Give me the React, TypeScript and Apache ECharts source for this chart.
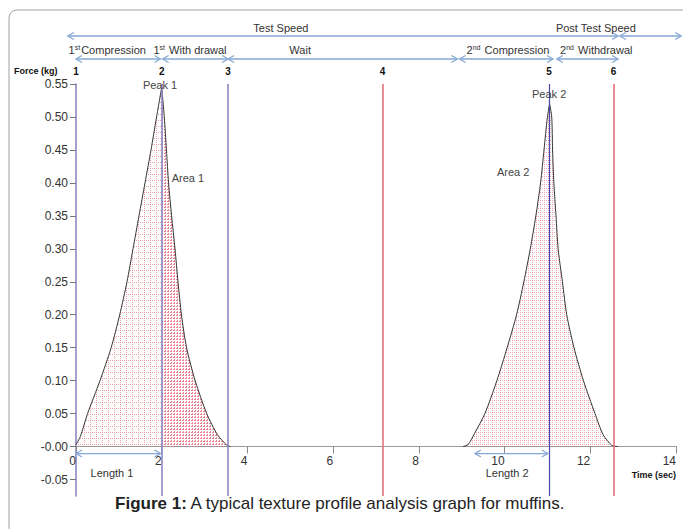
import React, { useEffect, useRef } from "react";
import * as echarts from "echarts";

// ---- data ----
const xTicks = [0, 2, 4, 6, 8, 10, 12, 14];
const yTicks = [-0.05, 0, 0.05, 0.1, 0.15, 0.2, 0.25, 0.3, 0.35, 0.4, 0.45, 0.5, 0.55];

const peak1Time = [0, 0.1, 0.27, 0.56, 0.82, 1.02, 1.19, 1.33, 1.47, 1.61, 1.75, 1.88, 2.0, 2.06, 2.11, 2.16, 2.23, 2.31, 2.38, 2.46, 2.58, 2.78, 3.05, 3.3, 3.52, 3.6];
const peak1Force = [0.003, 0.015, 0.05, 0.1, 0.15, 0.2, 0.25, 0.3, 0.35, 0.4, 0.45, 0.5, 0.545, 0.5, 0.45, 0.4, 0.35, 0.3, 0.25, 0.2, 0.15, 0.1, 0.05, 0.018, 0.002, 0];

const peak2Time = [9.03, 9.15, 9.3, 9.54, 9.82, 10.06, 10.28, 10.45, 10.6, 10.73, 10.84, 10.92, 11.0, 11.05, 11.1, 11.12, 11.15, 11.2, 11.25, 11.35, 11.45, 11.62, 11.84, 12.11, 12.3, 12.5, 12.65];
const peak2Force = [0, 0.003, 0.02, 0.05, 0.1, 0.15, 0.2, 0.25, 0.3, 0.35, 0.4, 0.45, 0.5, 0.52, 0.5, 0.45, 0.4, 0.35, 0.3, 0.25, 0.2, 0.15, 0.1, 0.05, 0.018, 0.002, 0];

const markerTimes = [0, 2.0, 3.55, 7.15, 11.04, 12.54];
const markerLabels = ["1", "2", "3", "4", "5", "6"];
const markerKinds = ["axis", "lav", "lav", "red", "blue", "red"];

const speedSegments = [[-0.19, 12.65], [12.69, 14.12]];
const speedLabels = ["Test Speed", "Post Test Speed"];
const speedLabelTimes = [4.78, 12.13];

const phaseSegments = [[0, 1.97], [2.02, 3.55], [3.55, 8.9], [8.95, 11.13], [11.22, 12.65]];
const phaseOrdinals = ["1", "1", "", "2", "2"];
const phaseSups = ["st", "st", "", "nd", "nd"];
const phaseNames = ["Compression", " With drawal", "Wait", " Compression", " Withdrawal"];
const phaseLabelTimes = [0.73, 2.66, 5.23, 10.08, 12.14];

const lengthSegments = [[0, 1.97], [9.31, 11.01]];
const lengthLabels = ["Length 1", "Length 2"];
const lengthLabelTimes = [0.84, 10.06];

const noteLabels = ["Peak 1", "Peak 2", "Area 1", "Area 2"];
const noteTimes = [1.96, 11.04, 2.61, 10.2];
const noteForces = [0.549, 0.535, 0.407, 0.417];

const FONT = "'Liberation Sans', Arial, Helvetica, sans-serif";
const ARROW = "#86a8d4";
const KIND_COLOR: Record<string, string> = { axis: "#8c88c0", lav: "#8c88c0", red: "#e5707f", blue: "#4a48a8" };

const Y_MIN = -0.075;
const Y_MAX = 0.55;
const GRID_TOP = 84;
const GRID_BOTTOM = 33;
const CHART_H = 529;

function makeTile(size: number, color: string) {
  const c = document.createElement("canvas");
  c.width = size;
  c.height = size;
  const g = c.getContext("2d")!;
  g.fillStyle = color;
  for (let i = 0; i < size; i += 2) {
    g.fillRect(0, i, 1, 1);
    if (i > 0) g.fillRect(i, 0, 1, 1);
  }
  return c;
}

function splitAtPeak(times: number[], forces: number[]) {
  const idx = forces.indexOf(Math.max(...forces));
  const rise = times.slice(0, idx + 1).map((t, i) => [t, forces[i]]);
  const fall = times.slice(idx).map((t, i) => [t, forces[idx + i]]);
  return [rise, fall];
}

export default function App() {
  const ref = useRef<HTMLDivElement>(null);
  useEffect(() => {
    if (!ref.current) return;
    const chart = echarts.init(ref.current, undefined, { renderer: "svg" });

    const [rise1, fall1] = splitAtPeak(peak1Time, peak1Force);
    const [rise2, fall2] = splitAtPeak(peak2Time, peak2Force);

    const lightFill = { image: makeTile(6, "rgba(226,90,110,0.6)"), repeat: "repeat" };
    const denseFill = { image: makeTile(3, "rgba(226,80,100,0.7)"), repeat: "repeat" };
    const midFill = { image: makeTile(4, "rgba(226,90,110,0.55)"), repeat: "repeat" };

    const lineStyle = { color: "#333", width: 1 };
    const baseSeries = (data: number[][], fill: any) => ({
      type: "line",
      data,
      showSymbol: false,
      symbol: "none",
      smooth: 0.25,
      lineStyle,
      areaStyle: { color: fill, opacity: 1 },
      silent: true,
      z: 2,
    });

    const vLines = markerTimes
      .map((t, i) => ({ t, k: markerKinds[i] }))
      .filter((m) => m.k !== "axis")
      .map((m) => ({
        xAxis: m.t,
        lineStyle: {
          color: KIND_COLOR[m.k],
          width: m.k === "blue" ? 1.2 : 1.6,
          type: "solid",
        },
      }));

    // pixel offset that lifts the bottom x axis up to force = 0
    const plotH = CHART_H - GRID_TOP - GRID_BOTTOM;
    const zeroOffset = -(plotH * (0 - Y_MIN)) / (Y_MAX - Y_MIN);

    chart.setOption({
      animation: false,
      grid: { left: 76, right: 7, top: GRID_TOP, bottom: GRID_BOTTOM, containLabel: false },
      xAxis: {
        type: "value",
        min: 0,
        max: 14,
        interval: 2,
        position: "bottom",
        offset: zeroOffset,
        splitLine: { show: false },
        axisLine: { show: true, onZero: false, lineStyle: { color: "#9a9a9a", width: 1 } },
        axisTick: { show: true, length: 7, lineStyle: { color: "#8a8a8a" } },
        axisLabel: {
          color: "#333",
          fontFamily: FONT,
          fontSize: 12,
          margin: 8,
          align: "right",
          customValues: xTicks,
        },
      },
      yAxis: {
        type: "value",
        min: Y_MIN,
        max: Y_MAX,
        splitLine: { show: false },
        axisLine: { show: true, onZero: false, lineStyle: { color: "#8c88c0", width: 1.6 } },
        axisTick: { show: true, length: 6, customValues: yTicks, lineStyle: { color: "#777" } },
        axisLabel: {
          color: "#333",
          fontFamily: FONT,
          fontSize: 12,
          margin: 8,
          customValues: yTicks,
          formatter: (v: number) => (Math.abs(v) < 1e-9 ? "-0.00" : v.toFixed(2)),
        },
      },
      series: [
        {
          ...baseSeries(rise1, lightFill),
          markLine: {
            silent: true,
            symbol: "none",
            label: { show: false },
            data: vLines,
          },
        },
        baseSeries(fall1, denseFill),
        baseSeries(rise2, midFill),
        baseSeries(fall2, midFill),
      ],
    });

    const px = (t: number, f = 0) => chart.convertToPixel({ gridIndex: 0 }, [t, f]) as number[];
    const g: any[] = [];

    // figure frame
    g.push({
      type: "rect",
      shape: { x: 9, y: 10, width: 700, height: 560, r: 8 },
      style: { fill: "none", stroke: "#a0a0a0", lineWidth: 1 },
      silent: true,
    });

    const arrow = (x1: number, x2: number, y: number) => {
      const s = { stroke: ARROW, lineWidth: 1.3, fill: "none" };
      g.push({ type: "line", shape: { x1, y1: y, x2, y2: y }, style: s, z: 10 });
      g.push({ type: "polyline", shape: { points: [[x1 + 6, y - 3.5], [x1, y], [x1 + 6, y + 3.5]] }, style: s, z: 10 });
      g.push({ type: "polyline", shape: { points: [[x2 - 6, y - 3.5], [x2, y], [x2 - 6, y + 3.5]] }, style: s, z: 10 });
    };
    const txt = (text: string, x: number, y: number, opts: any = {}) =>
      g.push({
        type: "text",
        z: 11,
        style: {
          text,
          x,
          y,
          fill: "#333",
          fontFamily: FONT,
          fontSize: 11,
          textAlign: "center",
          textVerticalAlign: "middle",
          ...opts,
        },
      });

    speedSegments.forEach((s, i) => {
      arrow(px(s[0])[0], px(s[1])[0], 36);
      txt(speedLabels[i], px(speedLabelTimes[i])[0], 28);
    });

    phaseSegments.forEach((s, i) => {
      arrow(px(s[0])[0], px(s[1])[0], 59);
      const rich = phaseOrdinals[i]
        ? `{n|${phaseOrdinals[i]}}{s|${phaseSups[i]}}{n|${phaseNames[i]}}`
        : `{n|${phaseNames[i]}}`;
      g.push({
        type: "text",
        z: 11,
        style: {
          text: rich,
          x: px(phaseLabelTimes[i])[0],
          y: 50,
          textAlign: "center",
          textVerticalAlign: "middle",
          fill: "#333",
          rich: {
            n: { fontFamily: FONT, fontSize: 11, fill: "#333", lineHeight: 13 },
            s: { fontFamily: FONT, fontSize: 7, fill: "#333", verticalAlign: "top", lineHeight: 13, padding: [0, 1, 3, 0] },
          },
        },
      });
    });

    markerTimes.forEach((t, i) => {
      txt(markerLabels[i], px(t)[0], 71, { fontWeight: "bold", fontSize: 10, fill: "#111" });
    });

    txt("Force (kg)", 14, 71, { fontWeight: "bold", fontSize: 9, textAlign: "left", fill: "#111", fontFamily: "'Liberation Sans Narrow', " + FONT });
    txt("Time (sec)", 676, 475, { fontWeight: "bold", fontSize: 9, textAlign: "right", fill: "#111", fontFamily: "'Liberation Sans Narrow', " + FONT });

    const y0 = px(0, 0)[1];
    lengthSegments.forEach((s, i) => {
      arrow(px(s[0])[0], px(s[1])[0], y0 + 7);
      txt(lengthLabels[i], px(lengthLabelTimes[i])[0], y0 + 26);
    });

    noteLabels.forEach((l, i) => {
      const p = px(noteTimes[i], noteForces[i]);
      txt(l, p[0], p[1], { fill: "#444" });
    });

    g.push({
      type: "text",
      z: 11,
      style: {
        text: "{b|Figure 1:} {r|A typical texture profile analysis graph for muffins.}",
        x: 340,
        y: 503,
        textAlign: "center",
        textVerticalAlign: "middle",
        rich: {
          b: { fontFamily: FONT, fontSize: 17, fontWeight: "bold", fill: "#222" },
          r: { fontFamily: FONT, fontSize: 17, fill: "#222" },
        },
      },
    });

    chart.setOption({ graphic: { elements: g } });

    return () => chart.dispose();
  }, []);

  return (
    <div
      ref={ref}
      style={{ position: "fixed", left: 0, top: 0, width: 683, height: 529, background: "#fff" }}
    />
  );
}
